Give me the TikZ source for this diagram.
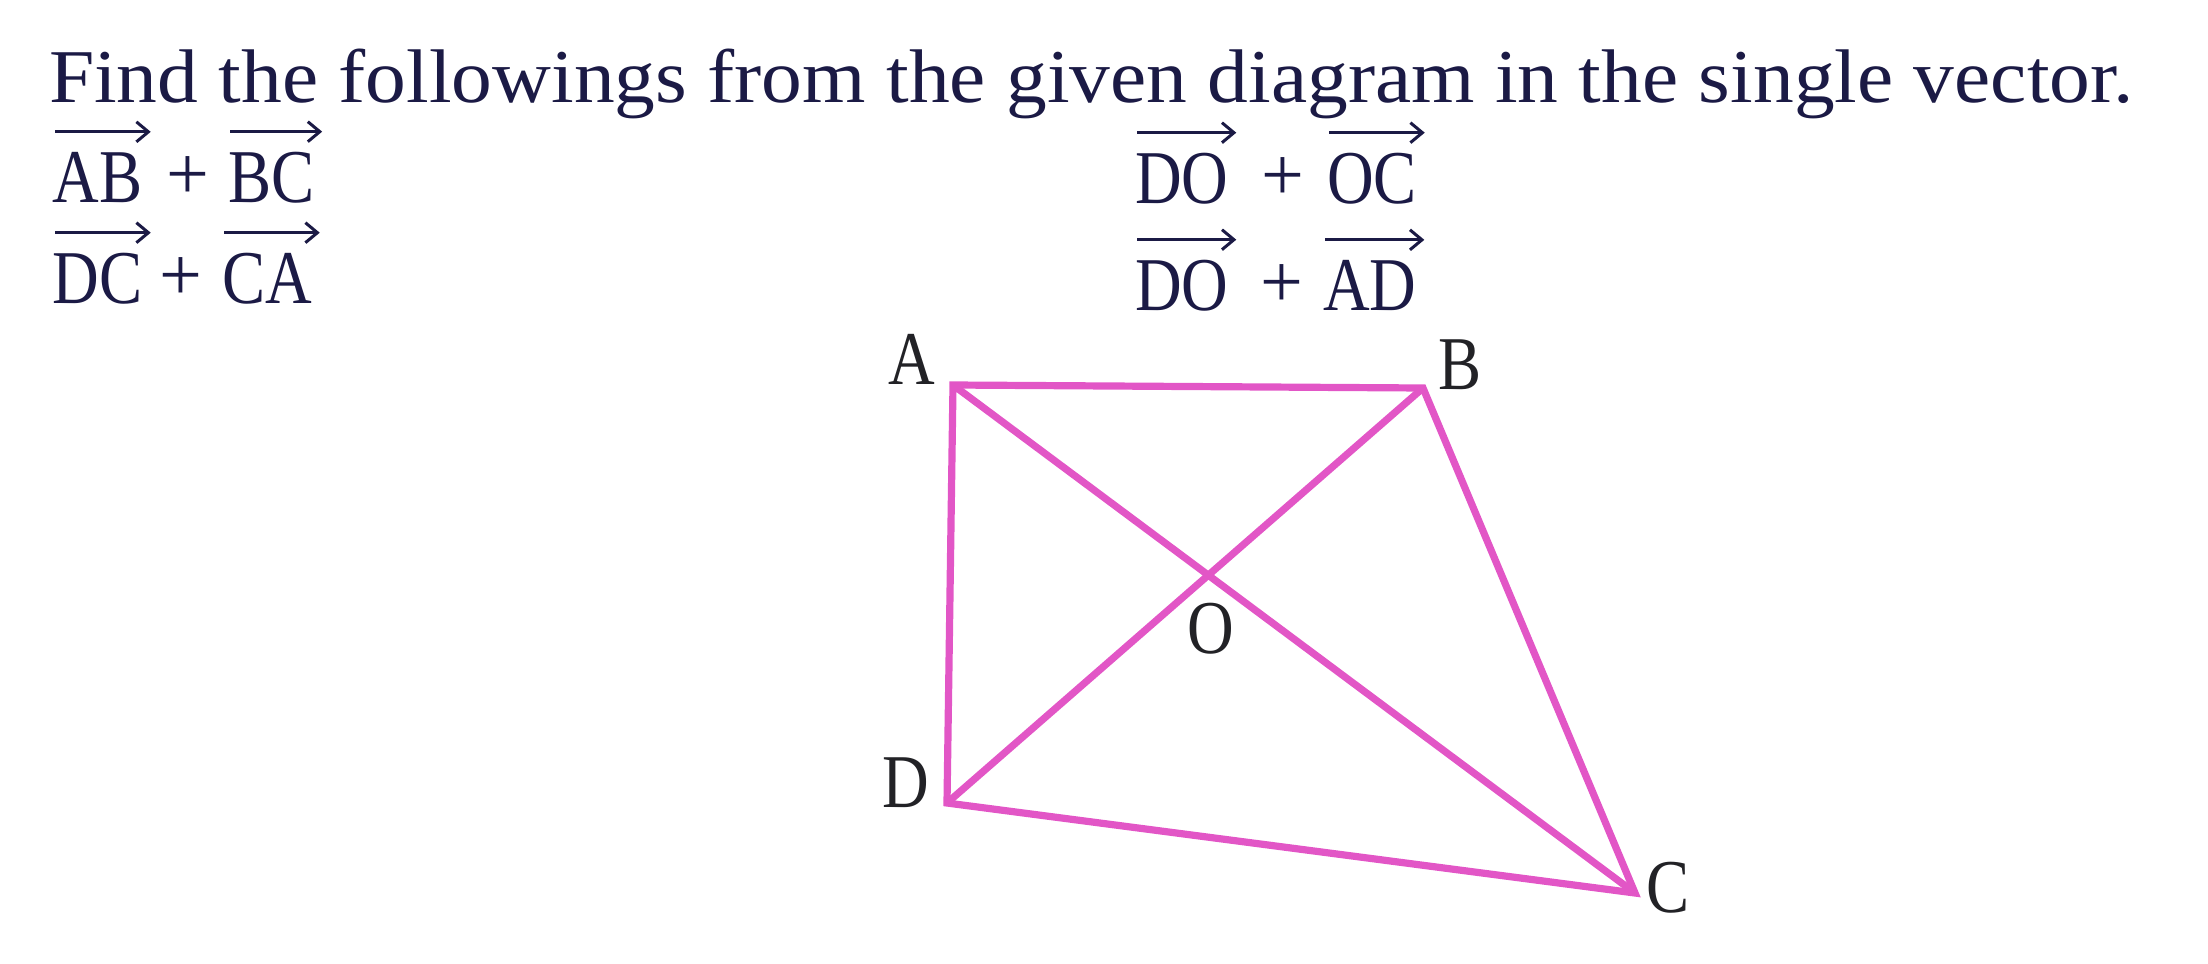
\documentclass[tikz,border=0pt]{standalone}
\usepackage{fontspec}
\setmainfont{Liberation Serif}
\usetikzlibrary{arrows.meta}
\definecolor{ink}{HTML}{1B1A45}
\definecolor{labelink}{HTML}{222226}
\definecolor{pinkline}{HTML}{E256C6}
\tikzset{
  txt/.style={inner sep=0pt, outer sep=0pt, text=ink, font=\fontsize{38}{46}\selectfont},
  vecterm/.style={txt, anchor=base west},
  plusterm/.style={txt, anchor=center},
  vecarrow/.style={draw=ink, line width=1.5pt, -{Straight Barb[length=6pt,width=10pt]}},
  side/.style={draw=pinkline, line width=3.6pt, line join=miter},
  vlabel/.style={txt, text=labelink, anchor=center}
}
\newcommand{\narrow}[1]{\scalebox{0.85}[1]{#1}}
\begin{document}
\begin{tikzpicture}[x=0.5pt, y=-0.5pt]
\useasboundingbox (0,0) rectangle (2208,964);
% title
\node[txt, anchor=base west] (title) at (49,102)
  {\resizebox{1042pt}{\height}{Find the followings from the given diagram in the single vector.}};
% left column, row 1
\node[vecterm] (tAB) at (53,202) {\narrow{AB}};
\node[plusterm] (p1) at (188,178) {+};
\node[vecterm] (tBC) at (228,202) {\narrow{BC}};
% left column, row 2
\node[vecterm] (tDC) at (53,303) {\narrow{DC}};
\node[plusterm] (p2) at (181,279) {+};
\node[vecterm] (tCA) at (222,303) {\narrow{CA}};
% right column, row 1
\node[vecterm] (tDO1) at (1135,203) {\narrow{DO}};
\node[plusterm] (p3) at (1283,179) {+};
\node[vecterm] (tOC) at (1327,203) {\narrow{OC}};
% right column, row 2
\node[vecterm] (tDO2) at (1135,310) {\narrow{DO}};
\node[plusterm] (p4) at (1282,286) {+};
\node[vecterm] (tAD) at (1323,310) {\narrow{AD}};
% vector arrows
\foreach \t in {tAB,tBC,tDC,tCA,tDO1,tOC,tDO2,tAD}{
  \draw[vecarrow] ([xshift=1pt,yshift=10pt]\t.north west) -- ([xshift=4pt,yshift=10pt]\t.north east);
}
% quadrilateral
\coordinate (A) at (953,385);
\coordinate (B) at (1423,388);
\coordinate (C) at (1635,893);
\coordinate (D) at (947,803);
\draw[side] (A) -- (B) -- (C) -- (D) -- cycle;
\draw[side] (A) -- (C);
\draw[side] (B) -- (D);
% vertex labels
\node[vlabel] (lA) at (912,359) {\narrow{A}};
\node[vlabel] (lB) at (1460,365) {\narrow{B}};
\node[vlabel] (lD) at (906,783) {\narrow{D}};
\node[vlabel] (lC) at (1668,888) {\narrow{C}};
\node[vlabel] (lO) at (1211,629) {\narrow{O}};
\end{tikzpicture}
\end{document}
